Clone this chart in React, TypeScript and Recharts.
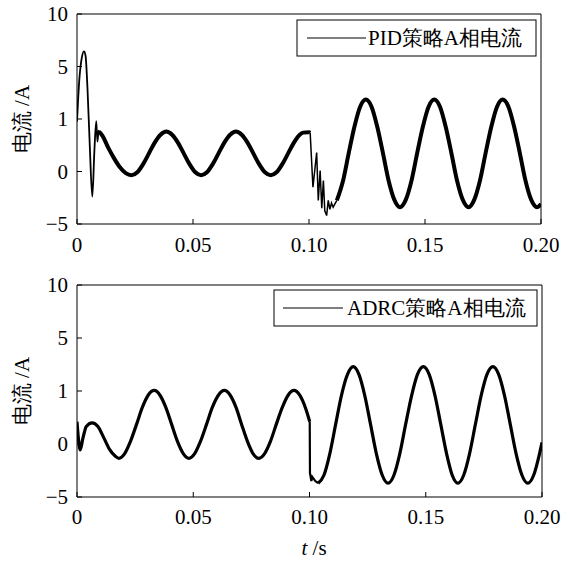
import React from 'react';
import { LineChart, Line, XAxis, YAxis } from 'recharts';

// ---- Data (x = time t in s, y = position on the chart's value axis) ----
// Y axis tick positions and their printed labels (the printed labels are non-linear)
const yTicks = [-1, 0, 1, 2, 3];
const yTickLabels = ['−5', '0', '1', '5', '10'];
const xTicks = [0, 0.05, 0.1, 0.15, 0.2];
const xTickLabels = ['0', '0.05', '0.10', '0.15', '0.20'];

// PID strategy, phase A current
const pidStart: [number, number][] = [
  [0, 0.95], [0.001, 1.75], [0.002, 2.15], [0.003, 2.29], [0.0037, 2.2], [0.0045, 1.6],
  [0.0055, 0.5], [0.0066, -0.48], [0.0075, 0.4], [0.0083, 0.96], [0.0088, 0.57],
  [0.0093, 0.78], [0.01, 0.74],
];
const pidSteadyA: [number, number][] = [
  [0.0095, 0.76], [0.011, 0.68], [0.0135, 0.45], [0.016, 0.25], [0.0185, 0.08], [0.021, -0.03],
  [0.0235, -0.07], [0.026, -0.015], [0.0285, 0.14], [0.031, 0.345], [0.0335, 0.55], [0.036, 0.7],
  [0.0385, 0.76], [0.041, 0.7], [0.0435, 0.55], [0.046, 0.345], [0.0485, 0.14], [0.051, -0.015],
  [0.0535, -0.07], [0.056, -0.015], [0.0585, 0.14], [0.061, 0.345], [0.0635, 0.55], [0.066, 0.7],
  [0.0685, 0.76], [0.071, 0.7], [0.0735, 0.55], [0.076, 0.345], [0.0785, 0.14], [0.081, -0.015],
  [0.0835, -0.07], [0.086, -0.015], [0.0885, 0.14], [0.091, 0.345], [0.0935, 0.55], [0.096, 0.7],
  [0.0975, 0.74], [0.1, 0.75], [0.1005, 0.74],
];
const pidDrop: [number, number][] = [
  [0.1005, 0.74], [0.1017, -0.3], [0.1033, 0.36], [0.104, -0.55], [0.1048, 0.02], [0.1055, -0.7],
  [0.1062, -0.17], [0.1068, -0.75], [0.1076, -0.84], [0.1083, -0.55], [0.109, -0.72],
  [0.1097, -0.6], [0.1104, -0.68], [0.112, -0.55],
];
const pidSteadyB: [number, number][] = [
  [0.112, -0.55], [0.1147, -0.17], [0.1171, 0.345], [0.1196, 0.857], [0.122, 1.23], [0.1245, 1.37],
  [0.127, 1.23], [0.1294, 0.857], [0.1319, 0.345], [0.1343, -0.17], [0.1368, -0.54], [0.1392, -0.68],
  [0.1417, -0.54], [0.1442, -0.17], [0.1466, 0.345], [0.1491, 0.857], [0.1515, 1.23], [0.154, 1.37],
  [0.1565, 1.23], [0.1589, 0.857], [0.1614, 0.345], [0.1638, -0.17], [0.1663, -0.54], [0.1688, -0.68],
  [0.1712, -0.54], [0.1737, -0.17], [0.1761, 0.345], [0.1786, 0.857], [0.181, 1.23], [0.1835, 1.37],
  [0.186, 1.23], [0.1884, 0.857], [0.1909, 0.345], [0.1933, -0.17], [0.1958, -0.54], [0.1983, -0.68],
  [0.2, -0.62],
];

// ADRC strategy, phase A current
const adrcA: [number, number][] = [
  [0, 0.42], [0.0006, 0.1], [0.0014, -0.11], [0.0025, 0.1], [0.004, 0.33], [0.0065, 0.4],
  [0.009, 0.33], [0.0115, 0.12], [0.014, -0.1], [0.0165, -0.23], [0.018, -0.27], [0.0205, -0.18],
  [0.023, 0.05], [0.0256, 0.37], [0.0281, 0.69], [0.0306, 0.92], [0.0332, 1.01], [0.0357, 0.92],
  [0.0382, 0.69], [0.0407, 0.37], [0.0432, 0.05], [0.0457, -0.18], [0.0481, -0.27], [0.0506, -0.18],
  [0.0531, 0.05], [0.0557, 0.37], [0.0582, 0.69], [0.0608, 0.92], [0.0634, 1.01], [0.0659, 0.92],
  [0.0684, 0.69], [0.0708, 0.37], [0.0733, 0.05], [0.0757, -0.18], [0.0782, -0.27], [0.0807, -0.18],
  [0.0832, 0.05], [0.0857, 0.37], [0.0883, 0.69], [0.0908, 0.92], [0.0933, 1.01], [0.0958, 0.92],
  [0.0985, 0.65], [0.1001, 0.42],
];
const adrcDrop: [number, number][] = [
  [0.1001, 0.42], [0.1002, -0.55], [0.1008, -0.7], [0.1012, -0.62], [0.1025, -0.7], [0.1037, -0.74],
];
const adrcB: [number, number][] = [
  [0.1037, -0.74], [0.1062, -0.59], [0.1087, -0.19], [0.1112, 0.36], [0.1137, 0.91], [0.1163, 1.31],
  [0.1188, 1.46], [0.1213, 1.31], [0.1238, 0.91], [0.1263, 0.36], [0.1288, -0.19], [0.1313, -0.59],
  [0.1338, -0.74], [0.1363, -0.59], [0.1388, -0.19], [0.1413, 0.36], [0.1439, 0.91], [0.1464, 1.31],
  [0.149, 1.46], [0.1515, 1.31], [0.154, 0.91], [0.1565, 0.36], [0.159, -0.19], [0.1614, -0.59],
  [0.1638, -0.74], [0.1663, -0.59], [0.1688, -0.19], [0.1713, 0.36], [0.1738, 0.91], [0.1763, 1.31],
  [0.1789, 1.46], [0.1814, 1.31], [0.1839, 0.91], [0.1864, 0.36], [0.1889, -0.19], [0.1914, -0.59],
  [0.1939, -0.74], [0.1964, -0.59], [0.1989, -0.19], [0.2, 0.03],
];

const pidLabel = 'PID策略A相电流';
const adrcLabel = 'ADRC策略A相电流';
const yTitle = '电流 /A';
const xTitle = 's';

// ---- Rendering ----
const FONT = "'Liberation Serif', 'Times New Roman', serif";
const FS = 21;

const rows = (pts: [number, number][]) => pts.map(([t, u]) => ({ t, u }));
const fmtY = (v: number) => yTickLabels[yTicks.indexOf(v)] ?? '';
const fmtX = (v: number) => xTickLabels[xTicks.findIndex((x) => Math.abs(x - v) < 1e-9)] ?? '';

type Seg = { pts: [number, number][]; w: number; type: 'monotone' | 'linear' };
type Box = { x: number; y: number; w: number; h: number; inset: number; len: number; gap: number };

function Panel(props: {
  segs: Seg[];
  height: number;
  margin: { top: number; right: number; bottom: number; left: number };
  rightW: number;
  tickMarginX: number;
  legendLabel: string;
  box: Box;
  yTitleY: number;
  showXTitle: boolean;
}) {
  const { segs, height, margin, rightW, box } = props;
  const midY = box.y + box.h / 2;
  return (
    <LineChart width={570} height={height} margin={margin}>
      <XAxis
        xAxisId="b"
        dataKey="t"
        type="number"
        domain={[0, 0.2]}
        ticks={xTicks}
        tickFormatter={fmtX}
        interval={0}
        allowDataOverflow
        height={40}
        tickSize={-5}
        tickMargin={props.tickMarginX}
        stroke="#000"
        tick={{ fill: '#000', fontSize: FS, fontFamily: FONT }}
      />
      <XAxis
        xAxisId="top"
        orientation="top"
        dataKey="t"
        type="number"
        domain={[0, 0.2]}
        ticks={xTicks}
        interval={0}
        allowDataOverflow
        height={1}
        tickSize={-5}
        tick={false}
        stroke="#000"
      />
      <YAxis
        yAxisId="l"
        type="number"
        domain={[-1, 3]}
        ticks={yTicks}
        tickFormatter={fmtY}
        interval={0}
        allowDataOverflow
        width={40}
        tickSize={-5}
        tickMargin={14}
        stroke="#000"
        tick={{ fill: '#000', fontSize: FS, fontFamily: FONT }}
      />
      <YAxis
        yAxisId="r"
        orientation="right"
        type="number"
        domain={[-1, 3]}
        ticks={yTicks}
        interval={0}
        allowDataOverflow
        width={rightW}
        tickSize={-5}
        tick={false}
        stroke="#000"
      />
      {segs.map((s, i) => (
        <Line
          key={i}
          xAxisId="b"
          yAxisId="l"
          data={rows(s.pts)}
          dataKey="u"
          type={s.type}
          stroke="#000"
          strokeWidth={s.w}
          dot={false}
          activeDot={false}
          isAnimationActive={false}
          legendType="none"
        />
      ))}
      <g>
        <rect x={box.x} y={box.y} width={box.w} height={box.h} fill="#fff" stroke="#000" strokeWidth={1} />
        <line
          x1={box.x + box.inset}
          y1={midY}
          x2={box.x + box.inset + box.len}
          y2={midY}
          stroke="#000"
          strokeWidth={1.2}
        />
        <text
          x={box.x + box.inset + box.len + box.gap}
          y={midY}
          dominantBaseline="central"
          fontFamily={FONT}
          fontSize={FS}
          fill="#000"
        >
          {props.legendLabel}
        </text>
      </g>
      <text
        x={22}
        y={props.yTitleY}
        transform={`rotate(-90 22 ${props.yTitleY})`}
        textAnchor="middle"
        dominantBaseline="central"
        fontFamily={FONT}
        fontSize={FS}
        fill="#000"
      >
        {yTitle}
      </text>
      {props.showXTitle && (
        <text x={314} y={285} textAnchor="middle" fontFamily={FONT} fontSize={FS} fill="#000">
          <tspan fontStyle="italic">t</tspan>
          <tspan> /{xTitle}</tspan>
        </text>
      )}
    </LineChart>
  );
}

export default function App() {
  return (
    <div style={{ position: 'absolute', left: 0, top: 0, width: 570, height: 562, background: '#fff' }}>
      <div style={{ position: 'absolute', left: 0, top: 0 }}>
        <Panel
          segs={[
            { pts: pidStart, w: 1.8, type: 'monotone' },
            { pts: pidSteadyA, w: 4, type: 'monotone' },
            { pts: pidDrop, w: 1.5, type: 'linear' },
            { pts: pidSteadyB, w: 4, type: 'monotone' },
          ]}
          height={270}
          margin={{ top: 13, right: 19, bottom: 6, left: 37 }}
          rightW={10}
          tickMarginX={18}
          legendLabel={pidLabel}
          box={{ x: 297, y: 20, w: 239, h: 36, inset: 10, len: 59, gap: 2 }}
          yTitleY={119}
          showXTitle={false}
        />
      </div>
      <div style={{ position: 'absolute', left: 0, top: 270 }}>
        <Panel
          segs={[
            { pts: adrcA, w: 3.2, type: 'monotone' },
            { pts: adrcDrop, w: 2.2, type: 'linear' },
            { pts: adrcB, w: 3.2, type: 'monotone' },
          ]}
          height={292}
          margin={{ top: 14, right: 18, bottom: 25, left: 37 }}
          rightW={10}
          tickMarginX={17}
          legendLabel={adrcLabel}
          box={{ x: 274, y: 20, w: 263, h: 36, inset: 9, len: 60, gap: 4 }}
          yTitleY={121}
          showXTitle={true}
        />
      </div>
    </div>
  );
}
